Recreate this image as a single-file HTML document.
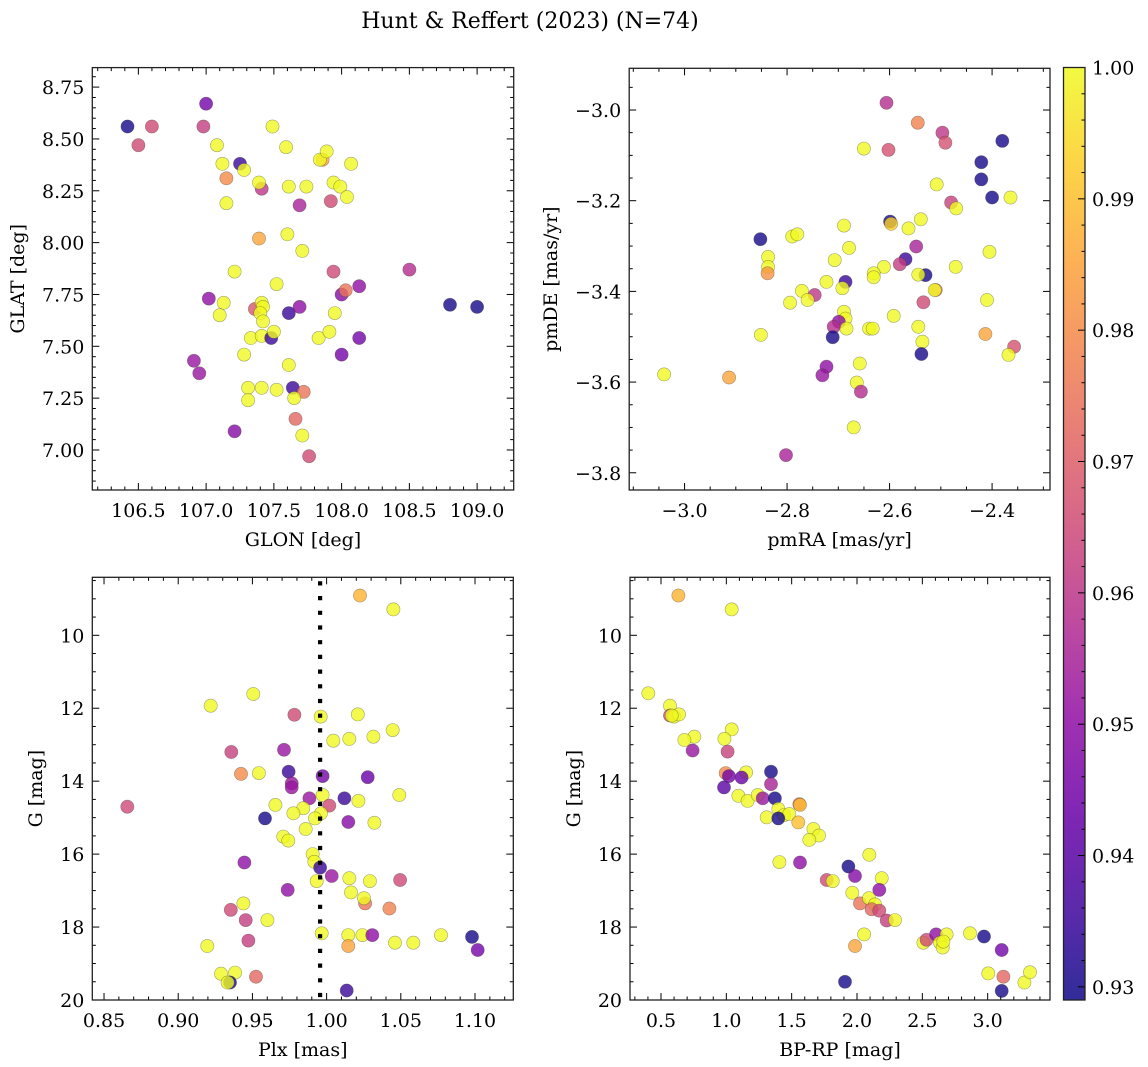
<!DOCTYPE html>
<html><head><meta charset="utf-8">
<style>
html,body{margin:0;padding:0;background:#fff;}
svg{display:block;font-family:"DejaVu Serif","Liberation Serif",serif;}
</style></head>
<body>
<svg id="fig" width="1148" height="1067" viewBox="0 0 1148 1067" xmlns="http://www.w3.org/2000/svg">
<defs>
<linearGradient id="plasma" x1="0" y1="1" x2="0" y2="0">
<stop offset="0" stop-color="#0d0887"/><stop offset="0.1" stop-color="#41049d"/><stop offset="0.2" stop-color="#6a00a8"/><stop offset="0.3" stop-color="#8f0da4"/><stop offset="0.4" stop-color="#b12a90"/><stop offset="0.5" stop-color="#cc4778"/><stop offset="0.6" stop-color="#e16462"/><stop offset="0.7" stop-color="#f2844b"/><stop offset="0.8" stop-color="#fca636"/><stop offset="0.9" stop-color="#fcce25"/><stop offset="1" stop-color="#f0f921"/>
</linearGradient>
</defs>
<text x="530" y="28" font-size="22" text-anchor="middle">Hunt &amp; Reffert (2023) (N=74)</text>
</svg>
<script>
// ---------- data ----------
const glon=[106.42,106.50,106.60,107.00,106.98,107.08,107.25,107.12,107.28,107.15,107.15,107.41,107.39,107.49,107.59,107.61,107.74,107.69,107.86,107.84,107.89,108.07,107.94,107.99,107.92,108.04,107.39,107.60,107.71,107.21,107.52,107.94,108.50,108.13,108.00,108.03,108.80,109.00,107.02,107.13,107.10,107.36,107.41,107.42,107.40,107.42,107.61,107.69,107.95,107.33,107.41,107.48,107.50,107.83,107.91,108.13,108.00,106.91,106.95,107.28,107.61,107.31,107.41,107.52,107.64,107.72,107.65,107.31,107.66,107.21,107.71,107.76];
const glat=[8.56,8.47,8.56,8.67,8.56,8.47,8.38,8.38,8.35,8.31,8.19,8.26,8.29,8.56,8.46,8.27,8.27,8.18,8.40,8.40,8.44,8.38,8.29,8.27,8.20,8.22,8.02,8.04,7.96,7.86,7.80,7.86,7.87,7.79,7.75,7.77,7.70,7.69,7.73,7.71,7.65,7.68,7.71,7.69,7.66,7.62,7.66,7.69,7.66,7.54,7.55,7.54,7.57,7.54,7.57,7.54,7.46,7.43,7.37,7.46,7.41,7.30,7.30,7.29,7.30,7.28,7.25,7.24,7.15,7.09,7.07,6.97];
const prob1=[0.93,0.965,0.965,0.945,0.962,1,0.935,1,1,0.98,1,0.96,1,1,1,1,1,0.955,0.985,1,1,1,1,1,0.965,1,0.985,1,1,1,1,0.965,0.958,0.95,0.948,0.975,0.93,0.93,0.95,1,1,0.968,1,1,1,1,0.935,0.95,1,1,1,0.935,1,1,1,0.945,0.945,0.952,0.952,1,1,1,1,1,0.935,0.975,1,1,0.972,0.948,1,0.965];

const pmra=[-2.606,-2.545,-2.497,-2.491,-2.380,-2.650,-2.602,-2.421,-2.421,-2.508,-2.400,-2.364,-2.480,-2.470,-2.599,-2.597,-2.539,-2.563,-2.689,-2.852,-2.790,-2.780,-2.548,-2.679,-2.405,-2.837,-2.837,-2.838,-2.707,-2.569,-2.580,-2.611,-2.631,-2.631,-2.530,-2.544,-2.471,-2.723,-2.686,-2.692,-2.771,-2.746,-2.760,-2.794,-2.510,-2.512,-2.534,-2.410,-2.592,-2.689,-2.686,-2.699,-2.684,-2.709,-2.711,-2.640,-2.633,-2.544,-2.851,-2.413,-2.536,-2.538,-2.357,-2.368,-2.658,-2.723,-2.731,-3.040,-2.913,-2.664,-2.656,-2.670,-2.802];
const pmde=[-2.984,-3.028,-3.050,-3.072,-3.068,-3.085,-3.088,-3.115,-3.153,-3.164,-3.193,-3.193,-3.204,-3.217,-3.246,-3.251,-3.241,-3.261,-3.255,-3.285,-3.279,-3.274,-3.301,-3.304,-3.313,-3.324,-3.346,-3.360,-3.331,-3.329,-3.340,-3.346,-3.360,-3.369,-3.364,-3.363,-3.346,-3.379,-3.379,-3.393,-3.399,-3.408,-3.419,-3.425,-3.397,-3.397,-3.424,-3.419,-3.454,-3.445,-3.460,-3.467,-3.482,-3.478,-3.501,-3.482,-3.482,-3.478,-3.496,-3.494,-3.511,-3.538,-3.522,-3.540,-3.559,-3.566,-3.585,-3.583,-3.590,-3.601,-3.621,-3.700,-3.761];
const prob2=[0.958,0.978,0.96,0.967,0.93,1,0.967,0.93,0.93,1,0.93,1,0.963,1,0.93,0.993,1,1,1,0.93,1,1,0.955,1,1,1,1,0.982,1,0.935,0.962,1,1,1,0.93,1,1,1,0.935,1,1,0.96,1,1,0.975,1,0.965,1,1,1,1,0.95,1,0.958,0.93,1,1,1,1,0.985,1,0.93,0.967,1,1,0.95,0.952,1,0.985,1,0.958,1,0.955];

const plx=[1.0225,1.045,0.9506,0.9219,0.9783,0.996,1.021,1.0445,1.0045,1.0153,1.0315,0.9358,0.9713,0.9423,0.9544,0.9744,0.9765,0.9765,0.9973,1.0277,0.8657,0.9884,0.9973,1.012,1.0214,1.049,0.9655,0.9843,1.0018,0.9776,0.9962,0.9922,0.9585,1.0146,1.0322,0.9859,0.9708,0.9742,0.9906,0.9917,0.9956,0.9446,1.0034,0.9933,1.0153,1.0292,1.0495,0.9738,1.0164,1.0259,1.0252,1.0423,0.9439,0.9354,0.9455,0.9601,0.9967,1.0146,1.0241,1.0308,1.0146,1.0461,1.0584,1.0771,1.098,1.1018,0.9196,0.9473,0.9288,0.9383,0.9349,0.9333,0.9524,1.0135];
const gmag3=[8.91,9.29,11.61,11.93,12.18,12.23,12.17,12.60,12.89,12.84,12.78,13.20,13.14,13.80,13.78,13.74,14.06,14.17,13.86,13.89,14.70,14.47,14.38,14.47,14.54,14.38,14.65,14.74,14.67,14.88,14.88,15.02,15.02,15.12,15.14,15.31,15.52,15.63,16.00,16.21,16.37,16.23,16.60,16.74,16.66,16.74,16.71,16.98,17.05,17.35,17.21,17.49,17.35,17.53,17.81,17.81,18.17,18.22,18.22,18.22,18.52,18.43,18.43,18.22,18.27,18.63,18.52,18.37,19.28,19.25,19.52,19.52,19.36,19.74];
const prob3=[0.988,1,1,1,0.965,1,1,1,1,1,1,0.963,0.952,0.98,1,0.935,0.952,0.952,0.945,0.943,0.965,0.952,1,0.935,1,1,1,1,0.965,1,1,1,0.93,0.948,1,1,1,1,1,1,0.935,0.95,0.952,1,1,1,0.965,0.95,1,0.975,1,0.978,1,0.965,0.962,1,1,1,1,0.95,0.985,1,1,1,0.93,0.945,1,0.962,1,1,0.93,1,0.972,0.935];

const bprp=[0.633,1.041,0.403,0.569,0.569,0.600,0.638,1.041,0.755,0.679,0.985,1.010,0.742,0.995,1.151,1.342,1.342,1.020,1.117,0.982,1.092,1.163,1.240,1.278,1.372,1.398,1.441,1.482,1.559,1.564,1.309,1.398,1.551,1.666,1.709,1.635,1.406,1.564,2.094,1.934,1.985,1.768,1.814,2.189,2.171,1.964,2.023,2.092,2.138,2.112,2.171,2.227,2.291,2.054,1.985,2.508,2.533,2.605,2.686,2.635,2.656,2.865,2.972,3.107,3.005,3.120,3.107,3.281,3.324,1.908,0.582,2.661];
const gmag4=[8.91,9.29,11.59,11.93,12.20,12.23,12.17,12.58,12.78,12.87,12.84,13.19,13.16,13.78,13.76,13.74,14.08,13.86,13.90,14.17,14.40,14.54,14.38,14.47,14.47,14.76,14.93,14.90,14.63,14.65,14.99,15.02,15.13,15.31,15.49,15.61,16.22,16.23,16.02,16.34,16.60,16.71,16.74,16.66,16.98,17.06,17.35,17.21,17.38,17.51,17.55,17.82,17.81,18.20,18.52,18.43,18.35,18.20,18.20,18.43,18.56,18.17,18.26,18.63,19.27,19.36,19.75,19.52,19.24,19.50,12.20,18.40];
const prob4=[0.988,1,1,1,0.965,1,1,1,1,1,1,0.963,0.952,0.98,1,0.93,0.955,0.945,0.943,0.94,1,1,1,0.952,0.93,1,1,1,0.972,0.99,1,0.93,0.99,1,1,1,1,0.95,1,0.93,0.948,0.965,1,1,0.95,1,0.975,1,1,0.972,0.965,0.962,1,1,0.985,1,0.965,0.95,1,1,1,1,0.93,0.945,1,0.972,0.93,1,1,0.93,1,1];

const plxRef=[0.9956];
const cbTicks=[0.93,0.94,0.95,0.96,0.97,0.98,0.99,1.00];

// ---------- helpers ----------
const NS="http://www.w3.org/2000/svg";
const svg=document.getElementById('fig');
const FS=19;
function mk(tag,attrs,parent){const e=document.createElementNS(NS,tag);for(const k in attrs)e.setAttribute(k,attrs[k]);(parent||svg).appendChild(e);return e;}
const STOPS=["#0d0887","#41049d","#6a00a8","#8f0da4","#b12a90","#cc4778","#e16462","#f2844b","#fca636","#fcce25","#f0f921"];
const CMIN=0.929,CMAX=1.0;
function hex(h){return [1,3,5].map(i=>parseInt(h.substr(i,2),16));}
function plasma(v){let t=(v-CMIN)/(CMAX-CMIN);t=Math.max(0,Math.min(1,t));const p=t*10,i=Math.min(9,Math.floor(p)),f=p-i;const a=hex(STOPS[i]),b=hex(STOPS[i+1]);return 'rgb('+a.map((c,k)=>Math.round(c+(b[k]-c)*f)).join(',')+')';}

function panel(cfg){
  const g=mk('g',{});
  
  
  const {L,R,T,B,xd,yd,invertY}=cfg;
  const sx=v=>L+(v-xd[0])/(xd[1]-xd[0])*(R-L);
  const sy=invertY? v=>T+(v-yd[0])/(yd[1]-yd[0])*(B-T) : v=>B-(v-yd[0])/(yd[1]-yd[0])*(B-T);
  const clip='clip-'+cfg.name;
  const cp=mk('clipPath',{id:clip},g);mk('rect',{x:L,y:T,width:R-L,height:B-T},cp);
  const pts=mk('g',{'clip-path':'url(#'+clip+')'},g);
  for(let i=0;i<cfg.xs.length;i++){
    const c=mk('circle',{cx:sx(cfg.xs[i]).toFixed(1),cy:sy(cfg.ys[i]).toFixed(1),r:6.6,fill:plasma(cfg.cs[i]),'fill-opacity':0.8,stroke:'rgba(60,60,40,0.45)','stroke-width':0.6},pts);
    
    
  }
  if(cfg.vline){for(const v of cfg.vline){const l=mk('line',{x1:sx(v),x2:sx(v),y1:T+4,y2:B,stroke:'#000','stroke-width':4.2,'stroke-dasharray':'4.2 10.5'},pts);
    
    }}
  const tk=mk('g',{stroke:'#000','stroke-width':1},g);
  const eps=1e-9;
  function rng(a,b,s){const o=[];const st=Math.ceil((a-eps)/s);for(let k=st;k*s<=b+eps;k++)o.push(+(k*s).toFixed(6));return o;}
  for(const v of rng(xd[0],xd[1],cfg.xminor)){const x=sx(v);const maj=cfg.xmajor.some(m=>Math.abs(m-v)<1e-6);const len=maj?7:3.5;
    mk('line',{x1:x,x2:x,y1:B,y2:B-len},tk);mk('line',{x1:x,x2:x,y1:T,y2:T+len},tk);}
  const yl=Math.min(yd[0],yd[1]),yh=Math.max(yd[0],yd[1]);
  for(const v of rng(yl,yh,cfg.yminor)){const y=sy(v);const maj=cfg.ymajor.some(m=>Math.abs(m-v)<1e-6);const len=maj?7:3.5;
    mk('line',{x1:L,x2:L+len,y1:y,y2:y},tk);mk('line',{x1:R,x2:R-len,y1:y,y2:y},tk);}
  const fr=mk('rect',{x:L,y:T,width:R-L,height:B-T,fill:'none',stroke:'#222','stroke-width':1.3},g);
  
  
  const xt=mk('g',{'font-size':FS,'text-anchor':'middle'},g);
  
  
  cfg.xmajor.forEach((v,i)=>{const t=mk('text',{x:sx(v),y:B+27},xt);t.textContent=cfg.xlab[i];});
  const ytg=mk('g',{'font-size':FS,'text-anchor':'end'},g);
  
  
  cfg.ymajor.forEach((v,i)=>{const t=mk('text',{x:L-8,y:sy(v)+7},ytg);t.textContent=cfg.ylab[i];});
  const xa=mk('text',{x:(L+R)/2,y:B+56,'font-size':FS,'text-anchor':'middle'},g);xa.textContent=cfg.xtitle;
  
  
  const ya=mk('text',{x:0,y:0,'font-size':FS,'text-anchor':'middle',transform:'translate('+cfg.ytx+','+((T+B)/2)+') rotate(-90)'},g);ya.textContent=cfg.ytitle;
  
  
}

panel({name:'glon-glat-panel',L:92.3,R:513.7,T:67.6,B:490,xd:[106.16,109.27],yd:[6.807,8.844],
  xs:glon,ys:glat,cs:prob1,xmajor:[106.5,107,107.5,108,108.5,109],xlab:['106.5','107.0','107.5','108.0','108.5','109.0'],xminor:0.1,
  ymajor:[7,7.25,7.5,7.75,8,8.25,8.5,8.75],ylab:['7.00','7.25','7.50','7.75','8.00','8.25','8.50','8.75'],yminor:0.05,
  xtitle:'GLON [deg]',ytitle:'GLAT [deg]',ytx:24});
panel({name:'proper-motion-panel',L:629.2,R:1050,T:68.3,B:490,xd:[-3.108,-2.287],yd:[-3.838,-2.908],
  xs:pmra,ys:pmde,cs:prob2,xmajor:[-3,-2.8,-2.6,-2.4],xlab:['\u22123.0','\u22122.8','\u22122.6','\u22122.4'],xminor:0.05,
  ymajor:[-3.8,-3.6,-3.4,-3.2,-3.0],ylab:['\u22123.8','\u22123.6','\u22123.4','\u22123.2','\u22123.0'],yminor:0.05,
  xtitle:'pmRA [mas/yr]',ytitle:'pmDE [mas/yr]',ytx:557});
panel({name:'parallax-g-panel',L:92.3,R:513.3,T:577.3,B:1000,xd:[0.8421,1.1258],yd:[8.41,20],invertY:true,
  xs:plx,ys:gmag3,cs:prob3,vline:plxRef,xmajor:[0.85,0.9,0.95,1.0,1.05,1.1],xlab:['0.85','0.90','0.95','1.00','1.05','1.10'],xminor:0.01,
  ymajor:[10,12,14,16,18,20],ylab:['10','12','14','16','18','20'],yminor:0.5,
  xtitle:'Plx [mas]',ytitle:'G [mag]',ytx:42});
panel({name:'color-magnitude-panel',L:630,R:1050,T:577.3,B:1000,xd:[0.2628,3.477],yd:[8.41,20],invertY:true,
  xs:bprp,ys:gmag4,cs:prob4,xmajor:[0.5,1,1.5,2,2.5,3],xlab:['0.5','1.0','1.5','2.0','2.5','3.0'],xminor:0.1,
  ymajor:[10,12,14,16,18,20],ylab:['10','12','14','16','18','20'],yminor:0.5,
  xtitle:'BP-RP [mag]',ytitle:'G [mag]',ytx:580});

// colorbar
(function(){
  const L=1063.5,R=1085,T=67.5,B=1000;
  const g=mk('g',{});
  
  
  mk('rect',{x:L,y:T,width:R-L,height:B-T,fill:'url(#plasma)','fill-opacity':0.85},g);
  const sy=v=>B-(v-CMIN)/(CMAX-CMIN)*(B-T);
  for(let k=Math.ceil(CMIN/0.002-1e-6);k*0.002<=CMAX+1e-9;k++){const v=k*0.002;const y=sy(v);const maj=cbTicks.some(m=>Math.abs(m-v)<1e-6);mk('line',{x1:R,x2:R-(maj?7:3.5),y1:y,y2:y,stroke:'#000','stroke-width':1},g);}
  mk('rect',{x:L,y:T,width:R-L,height:B-T,fill:'none',stroke:'#222','stroke-width':1.3},g);
  const lg=mk('g',{'font-size':FS},g);
  
  
  cbTicks.forEach(v=>{const t=mk('text',{x:R+7,y:sy(v)+7},lg);t.textContent=v.toFixed(2);});
})();
</script>
</body></html>
